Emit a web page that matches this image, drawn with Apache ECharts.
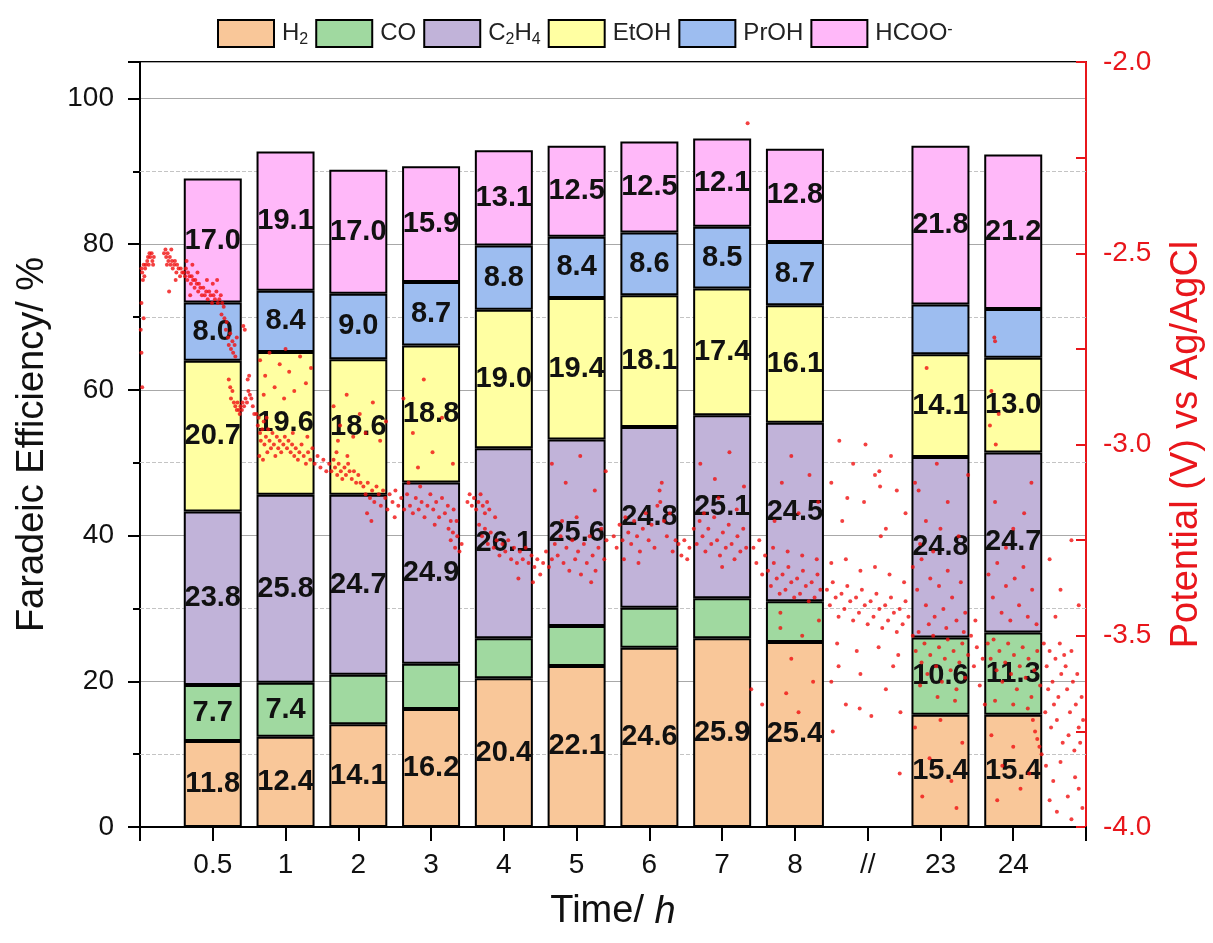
<!DOCTYPE html>
<html>
<head>
<meta charset="utf-8">
<script src="https://cdn.jsdelivr.net/npm/echarts@6/dist/echarts.min.js"></script>
<style>
  html, body { margin: 0; padding: 0; background: #fff; }
  #chart { width: 1213px; height: 943px; }
</style>
</head>
<body>
<div id="chart"></div>
<script>
// x slots: 0 and 13 are empty ends, 10 is the axis break
const tickLabels = ['', '0.5', '1', '2', '3', '4', '5', '6', '7', '8', '//', '23', '24', '']
const barPos = [1, 2, 3, 4, 5, 6, 7, 8, 9, 11, 12]

// faradaic efficiency, %
const h2   = [11.8, 12.4, 14.1, 16.2, 20.4, 22.1, 24.6, 25.9, 25.4, 15.4, 15.4]
const co   = [7.7, 7.4, 6.8, 6.2, 5.5, 5.5, 5.5, 5.5, 5.6, 10.6, 11.3]
const c2h4 = [23.8, 25.8, 24.7, 24.9, 26.1, 25.6, 24.8, 25.1, 24.5, 24.8, 24.7]
const etoh = [20.7, 19.6, 18.6, 18.8, 19.0, 19.4, 18.1, 17.4, 16.1, 14.1, 13.0]
const proh = [8.0, 8.4, 9.0, 8.7, 8.8, 8.4, 8.6, 8.5, 8.7, 6.8, 6.7]
const hcoo = [17.0, 19.1, 17.0, 15.9, 13.1, 12.5, 12.5, 12.1, 12.8, 21.8, 21.2]

// which segments carry a printed value
const allShown   = [1, 1, 1, 1, 1, 1, 1, 1, 1, 1, 1]
const coShown    = [1, 1, 0, 0, 0, 0, 0, 0, 0, 1, 1]
const prohShown  = [1, 1, 1, 1, 1, 1, 1, 1, 1, 0, 0]

const minorGrid = [10, 30, 50, 70, 90]

// potential trace [slot position, V vs Ag/AgCl]
const potential = [
  [0.02,-2.54],[0.03,-2.55],[0.05,-2.53],[0.06,-2.56],[0.08,-2.53],[0.10,-2.52],[0.11,-2.51],[0.13,-2.50],[0.14,-2.51],[0.16,-2.50],[0.17,-2.52],[0.19,-2.51],[0.04,-2.57],[0.07,-2.54],[0.12,-2.53],[0.18,-2.53],
  [0.02,-2.63],[0.01,-2.70],[0.02,-2.76],[0.03,-2.85],[0.05,-2.67],
  [0.33,-2.50],[0.35,-2.49],[0.36,-2.51],[0.38,-2.50],[0.39,-2.52],[0.41,-2.51],[0.42,-2.53],[0.44,-2.52],[0.45,-2.54],[0.47,-2.53],[0.48,-2.52],[0.50,-2.55],[0.51,-2.53],[0.53,-2.54],[0.55,-2.56],[0.56,-2.54],[0.58,-2.55],[0.37,-2.53],[0.43,-2.49],[0.49,-2.57],[0.40,-2.60],
  [0.60,-2.55],[0.62,-2.56],[0.63,-2.54],[0.65,-2.57],[0.66,-2.55],[0.68,-2.56],[0.70,-2.58],[0.71,-2.56],[0.73,-2.57],[0.75,-2.59],[0.76,-2.57],[0.78,-2.58],[0.80,-2.60],[0.81,-2.58],[0.83,-2.59],[0.85,-2.61],[0.64,-2.52],[0.72,-2.53],[0.79,-2.55],[0.69,-2.61],
  [0.87,-2.59],[0.89,-2.61],[0.91,-2.60],[0.93,-2.62],[0.95,-2.60],[0.97,-2.61],[0.99,-2.63],[1.01,-2.61],[1.03,-2.62],[1.05,-2.60],[1.07,-2.63],[1.09,-2.62],[1.11,-2.61],[1.13,-2.63],[1.15,-2.64],[0.92,-2.57],[1.00,-2.58],[1.06,-2.57],[1.12,-2.66],
  [1.16,-2.67],[1.18,-2.70],[1.19,-2.68],[1.21,-2.72],[1.22,-2.74],[1.24,-2.71],[1.25,-2.75],[1.27,-2.73],[1.28,-2.76],[1.30,-2.74],[1.31,-2.77],[1.33,-2.72],[1.42,-2.69],[1.44,-2.70],
  [1.22,-2.83],[1.24,-2.85],[1.25,-2.88],[1.27,-2.86],[1.29,-2.89],[1.31,-2.90],[1.33,-2.91],[1.34,-2.89],[1.36,-2.91],[1.37,-2.92],[1.38,-2.90],[1.40,-2.91],[1.41,-2.89],[1.43,-2.90],[1.45,-2.88],[1.47,-2.89],[1.49,-2.86],[1.51,-2.87],[1.53,-2.88],[1.55,-2.90],[1.57,-2.92],[1.48,-2.83],[1.50,-2.82],
  [1.60,-2.92],[1.62,-2.95],[1.63,-2.93],[1.65,-2.97],[1.66,-2.99],[1.68,-2.96],[1.70,-2.94],[1.71,-3.00],[1.73,-2.98],[1.75,-3.02],[1.76,-2.96],[1.78,-2.99],[1.80,-3.01],[1.82,-2.97],[1.84,-3.00],[1.86,-3.03],[1.88,-2.98],[1.90,-3.01],[1.92,-2.99],[1.94,-3.02],[1.64,-3.03],[1.69,-3.04],[1.74,-2.93],
  [1.65,-2.78],[1.72,-2.82],[1.78,-2.76],[1.85,-2.85],[1.92,-2.79],[1.98,-2.88],[2.05,-2.81],[2.12,-2.86],[2.20,-2.77],[2.28,-2.84],[2.35,-2.80],[1.70,-2.87],[2.00,-2.75],
  [1.97,-3.00],[1.99,-2.98],[2.02,-3.01],[2.04,-2.99],[2.07,-3.02],[2.09,-3.00],[2.12,-3.03],[2.14,-3.01],[2.17,-3.04],[2.19,-3.02],[2.22,-3.00],[2.25,-3.03],[2.28,-3.05],[2.31,-3.02],[2.34,-3.04],[2.37,-3.01],[2.40,-3.05],[2.44,-3.03],[2.48,-3.06],[2.52,-3.04],[2.56,-3.07],[2.10,-2.97],[2.30,-2.98],
  [2.60,-3.05],[2.63,-3.07],[2.66,-3.04],[2.68,-3.06],[2.71,-3.08],[2.73,-3.05],[2.76,-3.07],[2.78,-3.09],[2.81,-3.06],[2.83,-3.08],[2.86,-3.05],[2.88,-3.07],[2.91,-3.09],[2.94,-3.07],[2.97,-3.10],[3.00,-3.08],[3.03,-3.10],[2.70,-3.02],[2.85,-3.03],
  [2.66,-2.90],[2.75,-2.95],[2.84,-2.87],[2.93,-2.98],[3.02,-2.92],[3.10,-2.97],[3.20,-2.89],[3.30,-2.99],[3.38,-2.94],[2.72,-2.99],
  [3.07,-3.11],[3.10,-3.13],[3.13,-3.10],[3.16,-3.14],[3.19,-3.12],[3.22,-3.15],[3.25,-3.11],[3.28,-3.13],[3.31,-3.16],[3.34,-3.12],[3.37,-3.14],[3.40,-3.17],[3.12,-3.18],[3.18,-3.20],
  [3.43,-3.13],[3.47,-3.15],[3.51,-3.12],[3.55,-3.16],[3.59,-3.14],[3.63,-3.17],[3.67,-3.13],[3.71,-3.16],[3.75,-3.18],[3.79,-3.14],[3.83,-3.17],[3.87,-3.15],[3.91,-3.19],[3.95,-3.16],[3.99,-3.13],[4.03,-3.17],[4.07,-3.15],[4.11,-3.19],[4.15,-3.14],[4.19,-3.18],[4.23,-3.16],[4.27,-3.20],[4.31,-3.17],[3.69,-3.10],[3.85,-3.11],[4.05,-3.21],[3.50,-3.19],
  [3.62,-2.88],[3.75,-2.97],[3.90,-2.83],[4.02,-3.02],[4.15,-2.93],[4.30,-3.05],[3.82,-3.06],
  [4.24,-3.22],[4.27,-3.25],[4.30,-3.23],[4.33,-3.27],[4.36,-3.24],[4.39,-3.28],[4.42,-3.26],[4.35,-3.20],
  [4.50,-3.15],[4.53,-3.13],[4.56,-3.16],[4.59,-3.14],[4.62,-3.17],[4.65,-3.15],[4.68,-3.13],[4.71,-3.16],[4.74,-3.18],[4.77,-3.15],[4.80,-3.17],
  [4.66,-3.21],[4.70,-3.24],[4.74,-3.22],[4.78,-3.26],[4.82,-3.23],[4.86,-3.27],[4.90,-3.25],[4.94,-3.29],[4.98,-3.26],[5.02,-3.28],[5.06,-3.25],[5.10,-3.30],[5.14,-3.27],[5.18,-3.31],[5.22,-3.28],[5.26,-3.30],[5.30,-3.27],[5.34,-3.31],[5.38,-3.29],[5.42,-3.32],[5.46,-3.30],[5.50,-3.34],[5.54,-3.31],[5.58,-3.28],[5.62,-3.32],[5.66,-3.30],[4.88,-3.19],[5.20,-3.35],[5.40,-3.36],
  [5.70,-3.26],[5.74,-3.29],[5.78,-3.24],[5.82,-3.31],[5.86,-3.27],[5.90,-3.33],[5.94,-3.25],[5.98,-3.30],[6.02,-3.28],[6.06,-3.34],[6.10,-3.26],[6.14,-3.31],[6.18,-3.24],[6.22,-3.29],[6.26,-3.33],[6.30,-3.27],[6.34,-3.22],[6.38,-3.30],[6.41,-3.25],[5.80,-3.20],[6.00,-3.19],[6.20,-3.36],
  [5.66,-3.05],[5.85,-3.10],[6.05,-3.03],[6.25,-3.12],[6.40,-3.07],
  [6.51,-3.24],[6.55,-3.27],[6.59,-3.21],[6.63,-3.25],[6.67,-3.19],[6.71,-3.23],[6.75,-3.26],[6.79,-3.20],[6.83,-3.24],[6.87,-3.28],[6.91,-3.22],[6.95,-3.18],[6.99,-3.25],[7.03,-3.21],[7.07,-3.27],[7.11,-3.16],[7.14,-3.12],[7.17,-3.10],[7.20,-3.20],[7.24,-3.24],[7.28,-3.18],[7.32,-3.28],[7.36,-3.25],[6.65,-3.30],[6.85,-3.31],[7.15,-3.15],
  [7.40,-3.26],[7.44,-3.29],[7.48,-3.25],[7.52,-3.30],[7.55,-3.27],
  [7.61,-3.22],[7.65,-3.26],[7.69,-3.20],[7.73,-3.24],[7.77,-3.28],[7.81,-3.22],[7.85,-3.26],[7.89,-3.19],[7.93,-3.25],[7.97,-3.29],[8.01,-3.23],[8.05,-3.27],[8.09,-3.21],[8.13,-3.26],[8.17,-3.30],[8.21,-3.24],[8.25,-3.28],[8.29,-3.22],[8.33,-3.27],[7.75,-3.18],[8.00,-3.32],[8.20,-3.17],
  [7.70,-3.05],[7.90,-3.09],[8.10,-3.02],[8.30,-3.11],[7.95,-3.14],[8.35,-2.16],
  [8.43,-3.27],[8.47,-3.31],[8.51,-3.25],[8.55,-3.34],[8.59,-3.29],
  [8.63,-3.33],[8.67,-3.37],[8.71,-3.31],[8.75,-3.35],[8.79,-3.39],[8.83,-3.34],[8.87,-3.38],[8.91,-3.32],[8.95,-3.36],[8.99,-3.40],[9.03,-3.35],[9.07,-3.39],[9.11,-3.33],[9.15,-3.37],[9.19,-3.41],[9.23,-3.36],[9.27,-3.40],[9.31,-3.34],[9.35,-3.38],[8.70,-3.27],[8.90,-3.28],[9.10,-3.29],[9.30,-3.30],[8.80,-3.44],
  [8.82,-3.10],[8.95,-3.03],[9.05,-3.18],[9.20,-3.08],[9.32,-3.15],[8.72,-3.20],
  [8.80,-3.48],[8.95,-3.56],[9.10,-3.50],[9.25,-3.62],[9.05,-3.70],[8.88,-3.65],[9.33,-3.46],[8.40,-3.64],[8.55,-3.68],
  [9.44,-3.38],[9.48,-3.42],[9.52,-3.36],[9.56,-3.40],[9.60,-3.45],[9.64,-3.39],[9.68,-3.43],[9.72,-3.37],[9.76,-3.41],[9.80,-3.46],[9.84,-3.40],[9.88,-3.44],[9.92,-3.38],[9.96,-3.42],[10.00,-3.47],[10.04,-3.41],[10.08,-3.45],[10.12,-3.39],[10.16,-3.43],[10.20,-3.48],[10.24,-3.42],[10.28,-3.46],[10.32,-3.40],[10.36,-3.44],[10.40,-3.49],[10.44,-3.43],[10.48,-3.47],[10.52,-3.41],[10.56,-3.45],
  [9.50,-3.31],[9.70,-3.30],[9.90,-3.33],[10.10,-3.32],[10.30,-3.34],[10.50,-3.36],[9.58,-3.52],[9.85,-3.54],[10.15,-3.53],[10.42,-3.55],
  [9.50,-3.10],[9.65,-3.20],[9.80,-3.05],[9.95,-3.15],[10.10,-3.08],[10.25,-3.22],[10.40,-3.12],[10.52,-3.18],[9.72,-3.14],[10.32,-3.03],[10.18,-3.24],[10.16,-3.07],[10.17,-3.11],[9.61,-2.99],[9.97,-3.00],
  [9.50,-3.62],[9.70,-3.68],[9.90,-3.60],[10.05,-3.71],[10.25,-3.64],[10.45,-3.70],[9.60,-3.58],[10.35,-3.58],[9.52,-3.75],[9.89,-3.69],[10.44,-3.86],
  [10.62,-3.32],[10.68,-3.38],[10.74,-3.30],[10.80,-3.42],[10.86,-3.35],[10.92,-3.45],[10.98,-3.37],[11.04,-3.43],[11.10,-3.33],[11.16,-3.40],[11.22,-3.46],[11.28,-3.36],[11.34,-3.44],
  [10.62,-3.50],[10.66,-3.54],[10.70,-3.49],[10.74,-3.57],[10.78,-3.52],[10.82,-3.60],[10.86,-3.55],[10.90,-3.50],[10.94,-3.58],[10.98,-3.53],[11.02,-3.62],[11.06,-3.56],[11.10,-3.51],[11.14,-3.59],[11.18,-3.54],[11.22,-3.64],[11.26,-3.57],[11.30,-3.52],[11.34,-3.61],[11.38,-3.55],[10.72,-3.63],[10.96,-3.66],[11.20,-3.67],[10.84,-3.47],[11.08,-3.48],[11.32,-3.49],
  [10.65,-3.10],[10.80,-3.20],[10.95,-3.05],[11.10,-3.15],[11.25,-3.24],[11.38,-3.08],[10.72,-3.26],[11.00,-3.22],
  [10.65,-3.74],[10.85,-3.82],[11.00,-3.72],[11.15,-3.88],[11.30,-3.78],[10.75,-3.92],[11.22,-3.95],
  [11.42,-3.50],[11.46,-3.58],[11.50,-3.53],[11.54,-3.63],[11.58,-3.56],[11.61,-3.68],[11.48,-3.46],
  [11.66,-3.34],[11.72,-3.40],[11.78,-3.31],[11.84,-3.44],[11.90,-3.37],[11.96,-3.46],[12.02,-3.35],[12.08,-3.42],[12.14,-3.32],[12.20,-3.45],[12.26,-3.38],[12.32,-3.47],
  [11.65,-3.52],[11.69,-3.56],[11.73,-3.51],[11.77,-3.59],[11.81,-3.54],[11.85,-3.62],[11.89,-3.57],[11.93,-3.52],[11.97,-3.60],[12.01,-3.55],[12.05,-3.64],[12.09,-3.58],[12.13,-3.53],[12.17,-3.61],[12.21,-3.56],[12.25,-3.66],[12.29,-3.59],[12.33,-3.54],[12.37,-3.63],[11.75,-3.67],[12.00,-3.68],[12.20,-3.69],
  [12.27,-3.72],[12.30,-3.75],[12.33,-3.77],[12.36,-3.79],[12.39,-3.81],
  [11.70,-3.76],[11.85,-3.84],[12.00,-3.79],[12.10,-3.90],[12.22,-3.86],[11.78,-3.93],
  [11.74,-2.72],[11.75,-2.73],[11.70,-2.86],[11.80,-2.92],[11.76,-3.00],[11.68,-2.95],[10.81,-2.80],
  [10.70,-3.12],[10.90,-3.28],[11.75,-3.15],[12.00,-3.22],[12.25,-3.10],[11.90,-3.27],[12.15,-3.18],
  [12.42,-3.52],[12.46,-3.58],[12.50,-3.54],[12.54,-3.62],[12.58,-3.56],[12.62,-3.66],[12.66,-3.60],[12.70,-3.55],[12.74,-3.64],[12.78,-3.70],[12.82,-3.62],[12.86,-3.68],[12.90,-3.74],[12.94,-3.66],[12.44,-3.70],[12.52,-3.74],[12.60,-3.72],[12.68,-3.78],[12.76,-3.76],[12.84,-3.80],[12.92,-3.78],[12.48,-3.64],[12.56,-3.68],[12.64,-3.52],[12.72,-3.58],[12.80,-3.54],[12.88,-3.60],[12.96,-3.72],
  [12.45,-3.84],[12.55,-3.88],[12.65,-3.83],[12.75,-3.92],[12.85,-3.87],[12.95,-3.95],[12.60,-3.96],[12.80,-3.98],[12.90,-3.90],[12.50,-3.93],
  [12.50,-3.30],[12.65,-3.38],[12.80,-3.25],[12.90,-3.42],[12.58,-3.45]
]

const FONT = 'Liberation Sans, Arial, sans-serif'
const RED = '#e8161b'

const species = [
  { name: 'H2', data: h2, color: '#f9c799', shown: allShown },
  { name: 'CO', data: co, color: '#a0d9a0', shown: coShown },
  { name: 'C2H4', data: c2h4, color: '#c1b3d9', shown: allShown },
  { name: 'EtOH', data: etoh, color: '#ffffa2', shown: allShown },
  { name: 'PrOH', data: proh, color: '#9dbdf0', shown: prohShown },
  { name: 'HCOO-', data: hcoo, color: '#ffb8f9', shown: allShown }
]

const legendText = {
  'H2': '{n|H}{s|2}',
  'CO': '{n|CO}',
  'C2H4': '{n|C}{s|2}{n|H}{s|4}',
  'EtOH': '{n|EtOH}',
  'PrOH': '{n|PrOH}',
  'HCOO-': '{n|HCOO}{p|-}'
}

// spread one species over the category slots, empty slots stay '-'
function slotData(sp) {
  const out = tickLabels.map(() => '-')
  barPos.forEach((x, i) => {
    out[x] = { value: sp.data[i], label: { show: !!sp.shown[i] } }
  })
  return out
}

const barSeries = species.map((sp, k) => {
  const s = {
    name: sp.name,
    type: 'bar',
    stack: 'fe',
    barWidth: 58,
    data: slotData(sp),
    itemStyle: { color: sp.color, borderColor: '#000', borderWidth: 2 },
    label: {
      show: true,
      position: 'inside',
      fontFamily: FONT,
      fontSize: 29,
      fontWeight: 'bold',
      color: '#111',
      formatter: p => Number(p.value).toFixed(1)
    }
  }
  if (k === 0) {
    s.markLine = {
      silent: true,
      z: 1,
      symbol: 'none',
      label: { show: false },
      lineStyle: { type: 'dashed', color: '#c4c4c4', width: 1 },
      data: minorGrid.map(v => ({ yAxis: v }))
    }
  }
  return s
})

const chart = echarts.init(document.getElementById('chart'))
chart.setOption({
  animation: false,
  backgroundColor: '#fff',
  textStyle: { fontFamily: FONT },
  legend: {
    data: species.map(s => s.name),
    left: 217,
    top: 19,
    padding: 0,
    itemWidth: 56,
    itemHeight: 27,
    itemGap: 7,
    icon: 'rect',
    formatter: name => legendText[name],
    textStyle: {
      color: '#222',
      padding: [0, 0, 0, 3],
      rich: {
        n: { fontSize: 24, lineHeight: 24, verticalAlign: 'top', fontFamily: FONT, color: '#222' },
        s: { fontSize: 16, lineHeight: 16, padding: [12, 0, 0, 0], fontFamily: FONT, color: '#222' },
        p: { fontSize: 16, lineHeight: 16, verticalAlign: 'top', fontFamily: FONT, color: '#222' }
      }
    }
  },
  grid: {
    left: 140, right: 127, top: 62, bottom: 116,
    outerBoundsMode: 'none',
    containLabel: false,
    show: true, borderColor: '#000', borderWidth: 2
  },
  xAxis: [
    {
      type: 'category',
      data: tickLabels,
      boundaryGap: false,
      name: '{a|Time/ }{b|h}',
      nameLocation: 'middle',
      nameGap: 66,
      nameTextStyle: {
        rich: {
          a: { fontSize: 38, fontFamily: FONT, color: '#111' },
          b: { fontSize: 38, fontFamily: FONT, fontStyle: 'italic', color: '#111' }
        }
      },
      axisLine: { lineStyle: { color: '#000', width: 2 } },
      axisTick: { interval: 0, length: 14, lineStyle: { color: '#000', width: 2 } },
      axisLabel: {
        interval: 0,
        margin: 24,
        fontSize: 28,
        color: '#111',
        fontFamily: FONT
      },
      splitLine: { show: false }
    },
    {
      type: 'value',
      min: 0,
      max: 13,
      show: false
    }
  ],
  yAxis: [
    {
      type: 'value',
      min: 0,
      max: 105,
      interval: 20,
      name: 'Faradeic Efficiency/ %',
      nameLocation: 'middle',
      nameGap: 88,
      nameTextStyle: { fontSize: 38, color: '#111', fontFamily: FONT },
      axisLine: { show: true, lineStyle: { color: '#000', width: 2 } },
      axisTick: { show: true, length: 12, lineStyle: { color: '#000', width: 2 } },
      minorTick: { show: true, splitNumber: 2, length: 7, lineStyle: { color: '#000', width: 2 } },
      axisLabel: {
        margin: 26,
        fontSize: 28,
        color: '#111',
        fontFamily: FONT,
        formatter: v => (v % 20 === 0 ? String(v) : '')
      },
      splitLine: { show: true, lineStyle: { color: '#a8a8a8', width: 1 } }
    },
    {
      type: 'value',
      position: 'right',
      min: -4,
      max: -2,
      interval: 0.25,
      name: 'Potential (V) vs Ag/AgCl',
      nameLocation: 'middle',
      nameRotate: 90,
      nameGap: 82,
      nameTextStyle: { fontSize: 38, color: RED, fontFamily: FONT },
      axisLine: { show: true, lineStyle: { color: RED, width: 2 } },
      axisTick: { show: true, inside: true, length: 10, lineStyle: { color: RED, width: 2 } },
      axisLabel: {
        margin: 17,
        fontSize: 28,
        color: RED,
        fontFamily: FONT,
        formatter: v => (Math.round(v * 4) % 2 === 0 ? v.toFixed(1) : '')
      },
      splitLine: { show: false }
    }
  ],
  series: [
    ...barSeries,
    {
      name: 'Potential',
      type: 'scatter',
      xAxisIndex: 1,
      yAxisIndex: 1,
      silent: true,
      symbol: 'circle',
      symbolSize: 4,
      itemStyle: { color: '#f01010' },
      data: potential,
      z: 3
    }
  ]
})
</script>
</body>
</html>
